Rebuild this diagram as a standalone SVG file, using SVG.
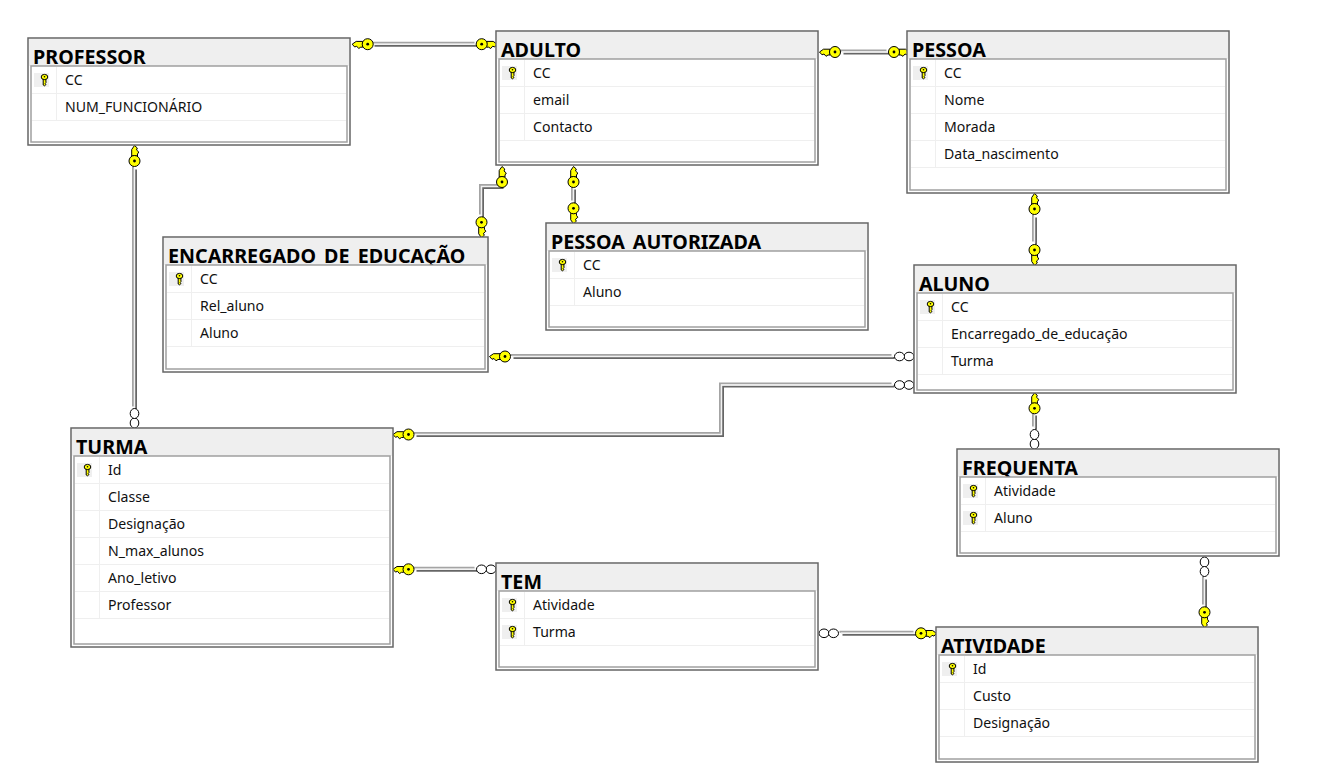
<svg xmlns="http://www.w3.org/2000/svg" width="1341" height="774" viewBox="0 0 1341 774">
<style>
.o{fill:#fff;stroke:#666;stroke-width:1.5}
.h{fill:#efefef}
.i{fill:#fff;stroke:#a0a0a0;stroke-width:1.5}
.r{stroke:#efefef;stroke-width:1;fill:none}
.t{font:bold 19.7px "Noto Sans","Open Sans",sans-serif;fill:#000}
.f{font:14.1px "Noto Sans","Open Sans",sans-serif;fill:#111}
.l1{fill:none;stroke:#a4a4a4;stroke-width:2}
.l2{fill:none;stroke:#666;stroke-width:2}
.l3{fill:none;stroke:#f2f2f2;stroke-width:1.5}
.kf{fill:#ffff00;stroke:#000;stroke-width:1}
.w{fill:#fff;stroke:#000;stroke-width:1}
</style>
<defs>
<g id="key"><path class="kf" d="M-7-2.800H-13.500L-17.500 0-15 2.800-13 2-11 4.300-9 3H-7Z"/><circle class="kf" cx="-2" cy="0" r="5.500"/><circle cx="-2" cy="0" r="1.400" fill="#000"/></g>
<g id="pk"><rect x="-10" y="-6" width="15" height="14" fill="#efefef"/><path class="kf" d="M-.8 0V6L.5 6.800 2 5.500 1.200 4.500 2 3.500 1.800 0Z"/><ellipse class="kf" cx=".5" cy="-2" rx="3.300" ry="2.600"/><circle cx=".5" cy="-2.300" r=".8" fill="#000"/></g>
<g id="inf"><ellipse class="w" cx="-5" cy="0" rx="5" ry="4.300"/><ellipse class="w" cx="-14.500" cy="0" rx="5" ry="4.300"/></g>
<g id="routes">
<path d="M373 44.200H476"/>
<path d="M842 52H888"/>
<path d="M134.500 168V408"/>
<path d="M481.500 216V186.500H502"/>
<path d="M573.500 188V202"/>
<path d="M1034.500 216V243"/>
<path d="M512 356.500H893"/>
<path d="M415 434.500H721.500V385H893"/>
<path d="M415 569.300H476"/>
<path d="M841 633.300H915"/>
<path d="M1034.500 414V428"/>
<path d="M1204.500 578V606"/>
</g>
</defs>
<rect width="1341" height="774" fill="#fff"/>
<g id="connectors">
<use href="#routes" class="l1" transform="translate(-1.500 -1.500)"/>
<use href="#routes" class="l2" transform="translate(1.500 1.500)"/>
<use href="#routes" class="l3"/>
<use href="#key" transform="translate(369.700 44.200)"/><use href="#key" transform="translate(479.700 44.200) scale(-1 1)"/>
<use href="#key" transform="translate(837 52)"/><use href="#key" transform="translate(892 52) scale(-1 1)"/>
<use href="#key" transform="translate(134.500 163) rotate(90) scale(1 -1)"/>
<use href="#key" transform="translate(502 184) rotate(90) scale(1 -1)"/>
<use href="#key" transform="translate(481.500 220.300) rotate(-90)"/>
<use href="#key" transform="translate(573.500 184) rotate(90) scale(1 -1)"/>
<use href="#key" transform="translate(573.500 206.300) rotate(-90)"/>
<use href="#key" transform="translate(1034.500 211) rotate(90) scale(1 -1)"/>
<use href="#key" transform="translate(1034.500 248) rotate(-90)"/>
<use href="#key" transform="translate(1034.500 410.300) rotate(90) scale(1 -1)"/>
<use href="#key" transform="translate(1204.500 610.300) rotate(-90)"/>
<use href="#key" transform="translate(507 356.500)"/>
<use href="#key" transform="translate(410.500 434.500)"/>
<use href="#key" transform="translate(410.500 569.300)"/>
<use href="#key" transform="translate(919 633.300) scale(-1 1)"/>
<use href="#inf" transform="translate(914 356.500)"/>
<use href="#inf" transform="translate(914 385)"/>
<use href="#inf" transform="translate(496 569.300)"/>
<use href="#inf" transform="translate(819 633.300) scale(-1 1)"/>
<use href="#inf" transform="translate(134.500 428) rotate(90)"/>
<use href="#inf" transform="translate(1034.500 449) rotate(90)"/>
<use href="#inf" transform="translate(1204.500 557) rotate(-90)"/>
</g>
<g id="PROFESSOR">
<rect class="o" x="28" y="38" width="322" height="107"/><rect class="h" x="29" y="39" width="320" height="27"/><text class="t" x="33" y="64">PROFESSOR</text>
<rect class="i" x="31" y="66" width="316" height="76"/>
<path class="r" d="M32 93.500H346M32 120.500H346M56.500 67V120"/>
<use href="#pk" transform="translate(44 79)"/>
<text class="f" x="65" y="85">CC</text><text class="f" x="65" y="112">NUM_FUNCIONÁRIO</text>
</g>
<g id="ADULTO">
<rect class="o" x="496" y="31" width="322" height="134"/><rect class="h" x="497" y="32" width="320" height="27"/><text class="t" x="501" y="57">ADULTO</text>
<rect class="i" x="499" y="59" width="316" height="103"/>
<path class="r" d="M500 86.500H814M500 113.500H814M500 140.500H814M524.500 60V140"/>
<use href="#pk" transform="translate(512 72)"/>
<text class="f" x="533" y="78">CC</text><text class="f" x="533" y="105">email</text><text class="f" x="533" y="132">Contacto</text>
</g>
<g id="PESSOA">
<rect class="o" x="907" y="31" width="322" height="162"/><rect class="h" x="908" y="32" width="320" height="27"/><text class="t" x="912" y="57">PESSOA</text>
<rect class="i" x="910" y="59" width="316" height="131"/>
<path class="r" d="M911 86.500H1225M911 113.500H1225M911 140.500H1225M911 167.500H1225M935.500 60V167"/>
<use href="#pk" transform="translate(923 72)"/>
<text class="f" x="944" y="78">CC</text><text class="f" x="944" y="105">Nome</text><text class="f" x="944" y="132">Morada</text><text class="f" x="944" y="159">Data_nascimento</text>
</g>
<g id="ENCARREGADO_DE_EDUCACAO">
<rect class="o" x="163" y="237" width="325" height="135"/><rect class="h" x="164" y="238" width="323" height="27"/><text class="t" x="168" y="263">ENCARREGADO_DE_EDUCAÇÃO</text>
<rect class="i" x="166" y="265" width="319" height="104"/>
<path class="r" d="M167 292.500H484M167 319.500H484M167 346.500H484M191.500 266V346"/>
<use href="#pk" transform="translate(179 278)"/>
<text class="f" x="200" y="284">CC</text><text class="f" x="200" y="311">Rel_aluno</text><text class="f" x="200" y="338">Aluno</text>
</g>
<g id="PESSOA_AUTORIZADA">
<rect class="o" x="546" y="223" width="322" height="107"/><rect class="h" x="547" y="224" width="320" height="27"/><text class="t" x="551" y="249">PESSOA_AUTORIZADA</text>
<rect class="i" x="549" y="251" width="316" height="76"/>
<path class="r" d="M550 278.500H864M550 305.500H864M574.500 252V305"/>
<use href="#pk" transform="translate(562 264)"/>
<text class="f" x="583" y="270">CC</text><text class="f" x="583" y="297">Aluno</text>
</g>
<g id="ALUNO">
<rect class="o" x="914" y="265" width="322" height="128"/><rect class="h" x="915" y="266" width="320" height="27"/><text class="t" x="919" y="291">ALUNO</text>
<rect class="i" x="917" y="293" width="316" height="97"/>
<path class="r" d="M918 320.500H1232M918 347.500H1232M918 374.500H1232M942.500 294V374"/>
<use href="#pk" transform="translate(930 306)"/>
<text class="f" x="951" y="312">CC</text><text class="f" x="951" y="339">Encarregado_de_educação</text><text class="f" x="951" y="366">Turma</text>
</g>
<g id="TURMA">
<rect class="o" x="71" y="428" width="322" height="219"/><rect class="h" x="72" y="429" width="320" height="27"/><text class="t" x="76" y="454">TURMA</text>
<rect class="i" x="74" y="456" width="316" height="188"/>
<path class="r" d="M75 483.500H389M75 510.500H389M75 537.500H389M75 564.500H389M75 591.500H389M75 618.500H389M99.500 457V618"/>
<use href="#pk" transform="translate(87 469)"/>
<text class="f" x="108" y="475">Id</text><text class="f" x="108" y="502">Classe</text><text class="f" x="108" y="529">Designação</text><text class="f" x="108" y="556">N_max_alunos</text><text class="f" x="108" y="583">Ano_letivo</text><text class="f" x="108" y="610">Professor</text>
</g>
<g id="FREQUENTA">
<rect class="o" x="957" y="449" width="322" height="107"/><rect class="h" x="958" y="450" width="320" height="27"/><text class="t" x="962" y="475">FREQUENTA</text>
<rect class="i" x="960" y="477" width="316" height="76"/>
<path class="r" d="M961 504.500H1275M961 531.500H1275M985.500 478V531"/>
<use href="#pk" transform="translate(973 490)"/><use href="#pk" transform="translate(973 517)"/>
<text class="f" x="994" y="496">Atividade</text><text class="f" x="994" y="523">Aluno</text>
</g>
<g id="TEM">
<rect class="o" x="496" y="563" width="322" height="107"/><rect class="h" x="497" y="564" width="320" height="27"/><text class="t" x="501" y="589">TEM</text>
<rect class="i" x="499" y="591" width="316" height="76"/>
<path class="r" d="M500 618.500H814M500 645.500H814M524.500 592V645"/>
<use href="#pk" transform="translate(512 604)"/><use href="#pk" transform="translate(512 631)"/>
<text class="f" x="533" y="610">Atividade</text><text class="f" x="533" y="637">Turma</text>
</g>
<g id="ATIVIDADE">
<rect class="o" x="936" y="627" width="322" height="135"/><rect class="h" x="937" y="628" width="320" height="27"/><text class="t" x="941" y="653">ATIVIDADE</text>
<rect class="i" x="939" y="655" width="316" height="104"/>
<path class="r" d="M940 682.500H1254M940 709.500H1254M940 736.500H1254M964.500 656V736"/>
<use href="#pk" transform="translate(952 668)"/>
<text class="f" x="973" y="674">Id</text><text class="f" x="973" y="701">Custo</text><text class="f" x="973" y="728">Designação</text>
</g>
</svg>
